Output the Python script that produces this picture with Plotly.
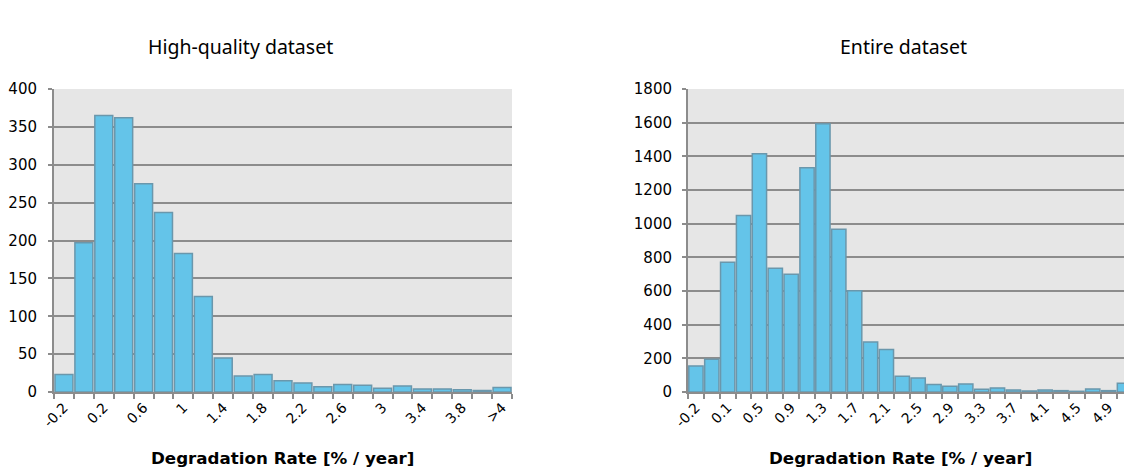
import plotly.graph_objects as go

# ---------------- data ----------------
hq_categories = ["-0.2", "0", "0.2", "0.4", "0.6", "0.8", "1", "1.2", "1.4", "1.6",
                 "1.8", "2", "2.2", "2.4", "2.6", "2.8", "3", "3.2", "3.4", "3.6",
                 "3.8", "4", ">4"]
hq_counts = [23, 197, 365, 362, 275, 237, 183, 126, 45, 21,
             23, 15, 12, 7, 10, 9, 5, 8, 4, 4,
             3, 2, 6]

all_categories = ["-0.2", "-0.1", "0.1", "0.3", "0.5", "0.7", "0.9", "1.1", "1.3", "1.5",
                  "1.7", "1.9", "2.1", "2.3", "2.5", "2.7", "2.9", "3.1", "3.3", "3.5",
                  "3.7", "3.9", "4.1", "4.3", "4.5", "4.7", "4.9", ">5"]
all_counts = [155, 194, 771, 1049, 1416, 735, 700, 1332, 1594, 967,
              601, 297, 252, 93, 83, 44, 34, 48, 16, 24,
              12, 6, 12, 8, 4, 18, 8, 52]

titles = ["High-quality dataset", "Entire dataset"]
x_title = "Degradation Rate [% / year]"

# ---------------- style ----------------
W, H = 1124, 469
BAR_FILL = "#64C4E9"
BAR_LINE = "#6A97AC"
BG = "#E6E6E6"
GRID = "#8C8C8C"
AXIS = "#8C8C8C"
FONT = "DejaVu Sans"

def px_x(p):
    return p / W

def px_y(p):
    return (H - p) / H

fig = go.Figure()

panels = [
    dict(cats=hq_categories, vals=hq_counts, x0=54, x1=512, ymax=400, dtick=50,
         xrange_hi=len(hq_categories) - 0.5, title_cx=240, xt_cx=282, standoff=8),
    dict(cats=all_categories, vals=all_counts, x0=688, x1=1124, ymax=1800, dtick=200,
         xrange_hi=26.97, title_cx=903, xt_cx=900, standoff=7),
]

y_top, y_bot = 89, 392

for i, p in enumerate(panels):
    n = len(p["cats"])
    idx = list(range(n))
    xa = "x" if i == 0 else "x2"
    ya = "y" if i == 0 else "y2"
    fig.add_trace(go.Bar(
        x=idx, y=p["vals"], xaxis=xa, yaxis=ya,
        marker=dict(color=BAR_FILL, line=dict(color=BAR_LINE, width=1.5)),
        hovertext=p["cats"], showlegend=False,
    ))
    xkey = "xaxis" if i == 0 else "xaxis2"
    ykey = "yaxis" if i == 0 else "yaxis2"
    fig.update_layout(**{
        xkey: dict(
            domain=[px_x(p["x0"]), min(1.0, px_x(p["x1"]))],
            anchor=ya,
            automargin=False,
            range=[-0.5, p["xrange_hi"]],
            tickmode="array",
            tickvals=idx[::2],
            ticktext=p["cats"][::2],
            tickangle=-45,
            ticks="",
            tickfont=dict(family=FONT, size=14, color="#000000"),
            showgrid=False,
            zeroline=False,
            showline=True, linecolor=AXIS, linewidth=2,
            minor=dict(tickmode="array", tickvals=[k - 0.5 for k in range(n + 1)],
                       ticks="outside", ticklen=5, tickwidth=2, tickcolor=AXIS,
                       showgrid=False),
            fixedrange=True,
        ),
        ykey: dict(
            domain=[px_y(y_bot), px_y(y_top)],
            anchor=xa,
            automargin=False,
            range=[0, p["ymax"]],
            dtick=p["dtick"],
            tickfont=dict(family=FONT, size=15, color="#000000"),
            ticklabelstandoff=p["standoff"],
            showgrid=True, gridcolor=GRID, gridwidth=1.5,
            zeroline=False,
            showline=True, linecolor=AXIS, linewidth=2,
            ticks="outside", ticklen=4, tickwidth=2, tickcolor=AXIS,
            fixedrange=True,
        ),
    })
    fig.add_annotation(text=titles[i], xref="paper", yref="paper",
                       x=px_x(p["title_cx"]), y=px_y(47), xanchor="center", yanchor="middle",
                       showarrow=False, font=dict(family="Noto Sans", size=19.5, color="#000000"))
    fig.add_annotation(text="<b>" + x_title + "</b>", xref="paper", yref="paper",
                       x=px_x(p["xt_cx"]), y=px_y(458), xanchor="center", yanchor="middle",
                       showarrow=False, font=dict(family=FONT, size=16.7, color="#000000"))

fig.update_layout(
    width=W, height=H,
    margin=dict(l=0, r=0, t=0, b=0, autoexpand=False),
    paper_bgcolor="#FFFFFF",
    plot_bgcolor=BG,
    bargap=0.1,
)

fig.write_html(
    "out.html",
    config={"displayModeBar": False},
    post_script="document.body.style.margin='0';document.body.style.overflow='hidden';",
)
